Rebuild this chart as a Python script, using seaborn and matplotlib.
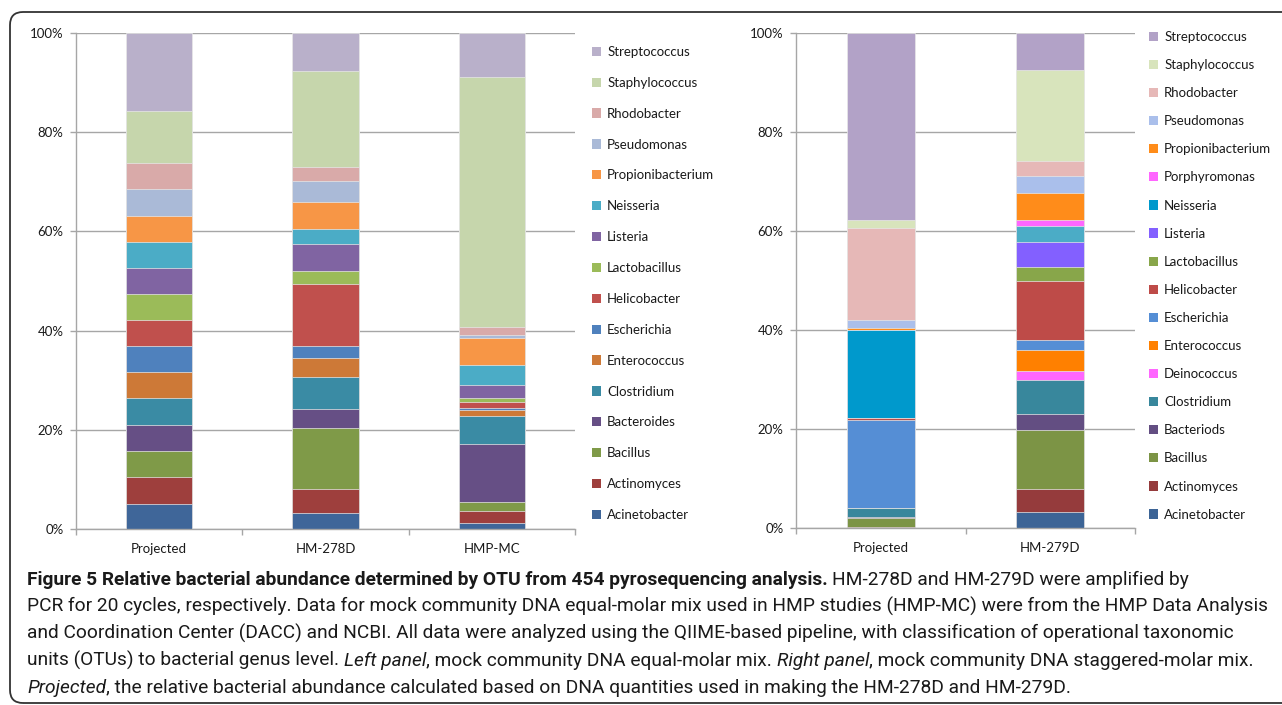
import matplotlib
matplotlib.use("Agg")
import matplotlib.pyplot as plt
import seaborn as sns
import numpy as np
from matplotlib.patches import Patch, FancyBboxPatch
from matplotlib.transforms import IdentityTransform

# ---------------- data ----------------
left_categories = ["Projected", "HM-278D", "HMP-MC"]
left_genera = ["Acinetobacter", "Actinomyces", "Bacillus", "Bacteroides", "Clostridium",
               "Enterococcus", "Escherichia", "Helicobacter", "Lactobacillus", "Listeria",
               "Neisseria", "Propionibacterium", "Pseudomonas", "Rhodobacter",
               "Staphylococcus", "Streptococcus"]
left_projected = [5.1, 5.3, 5.3, 5.3, 5.4, 5.3, 5.2, 5.2, 5.3, 5.2, 5.3, 5.3, 5.4, 5.2, 10.5, 15.7]
left_hm278d = [3.2, 4.9, 12.2, 3.8, 6.6, 3.7, 2.4, 12.5, 2.7, 5.4, 3.0, 5.6, 4.1, 2.9, 19.3, 7.7]
left_hmpmc = [1.2, 2.5, 1.8, 11.6, 5.7, 1.2, 0.3, 1.4, 0.7, 2.6, 4.0, 5.6, 0.5, 1.6, 50.5, 8.8]

right_categories = ["Projected", "HM-279D"]
right_genera = ["Acinetobacter", "Actinomyces", "Bacillus", "Bacteriods", "Clostridium",
                "Deinococcus", "Enterococcus", "Escherichia", "Helicobacter", "Lactobacillus",
                "Listeria", "Neisseria", "Porphyromonas", "Propionibacterium", "Pseudomonas",
                "Rhodobacter", "Staphylococcus", "Streptococcus"]
right_projected = [0.1, 0.2, 1.8, 0.2, 1.8, 0.0, 0.0, 17.8, 0.4, 0.0, 0.0, 17.7, 0.0, 0.5, 1.6, 18.5, 1.7, 37.7]
right_hm279d = [3.3, 4.6, 11.8, 3.4, 6.7, 2.0, 4.1, 2.1, 12.0, 2.7, 5.1, 3.3, 1.2, 5.3, 3.5, 3.1, 18.4, 7.4]

y_ticks = [0, 20, 40, 60, 80, 100]
y_tick_labels = ["0%", "20%", "40%", "60%", "80%", "100%"]

left_colors = {
    "Acinetobacter": "#3F6699", "Actinomyces": "#9E3F3D", "Bacillus": "#7F9A48",
    "Bacteroides": "#664F85", "Clostridium": "#3A8BA4", "Enterococcus": "#CD7937",
    "Escherichia": "#4F81BD", "Helicobacter": "#C0504D", "Lactobacillus": "#9BBB59",
    "Listeria": "#8064A2", "Neisseria": "#4BACC6", "Propionibacterium": "#F79646",
    "Pseudomonas": "#AABAD7", "Rhodobacter": "#D9AAA9", "Staphylococcus": "#C6D6AC",
    "Streptococcus": "#B9B0CA",
}
right_colors = {
    "Acinetobacter": "#3C6496", "Actinomyces": "#953B3C", "Bacillus": "#7C9445",
    "Bacteriods": "#634E82", "Clostridium": "#38879C", "Deinococcus": "#FF66FF",
    "Enterococcus": "#FF8000", "Escherichia": "#558ED5", "Helicobacter": "#BE4B48",
    "Lactobacillus": "#88A64A", "Listeria": "#8360FF", "Neisseria": "#0099CC",
    "Porphyromonas": "#FF66FF", "Propionibacterium": "#FF8C1A", "Pseudomonas": "#AABFEB",
    "Rhodobacter": "#E6B8B7", "Staphylococcus": "#D8E4BC", "Streptococcus": "#B2A2C7",
}
right_overrides = {("Neisseria", "HM-279D"): "#4BACC6"}

# ---------------- style ----------------
sns.set_style("white")
plt.rcParams['font.family'] = ['Lato', 'DejaVu Sans']
TEXT = "#1A1A1A"
GRID = "#A6A6A6"

W, H = 1282, 705
fig = plt.figure(figsize=(W / 100, H / 100), dpi=100)


def px_axes(x0, y_top, x1, y_bot):
    return fig.add_axes([x0 / W, 1 - y_bot / H, (x1 - x0) / W, (y_bot - y_top) / H])


def stacked(ax, cats, genera, values_by_cat, colors, overrides):
    vals = np.array(values_by_cat, dtype=float)
    cum = np.cumsum(vals, axis=1)
    for gi in reversed(range(len(genera))):
        g = genera[gi]
        pal = [overrides.get((g, c), colors[g]) for c in cats]
        sns.barplot(x=cats, y=cum[:, gi], hue=cats, palette=pal, order=cats,
                    hue_order=cats, width=0.4, legend=False, ax=ax, saturation=1,
                    errorbar=None, edgecolor="#E8E8E8", linewidth=0.5, zorder=3)
    n = len(cats)
    ax.set_xlim(-0.5, n - 0.5)
    ax.set_ylim(0, 100)
    ax.set_yticks(y_ticks)
    ax.set_yticklabels(y_tick_labels)
    ax.set_xticks(range(n))
    ax.set_xticklabels(cats)
    ax.set_xticks([i - 0.5 for i in range(n + 1)], minor=True)
    ax.set_xlabel("")
    ax.set_ylabel("")
    ax.yaxis.grid(True, color=GRID, linewidth=1.0, zorder=0)
    ax.set_axisbelow(True)
    for s in ["top", "right"]:
        ax.spines[s].set_visible(False)
    for s in ["left", "bottom"]:
        ax.spines[s].set_color(GRID)
        ax.spines[s].set_linewidth(1.0)
        ax.spines[s].set_zorder(4)
    ax.tick_params(axis="y", which="major", left=True, length=4, width=1, color=GRID,
                   labelsize=9.5, labelcolor=TEXT, pad=5)
    ax.tick_params(axis="x", which="major", bottom=True, length=0, labelsize=9.5,
                   labelcolor=TEXT, pad=10)
    ax.tick_params(axis="x", which="minor", bottom=True, length=4, width=1, color=GRID)


axL = px_axes(76, 33, 575, 529)
axR = px_axes(796, 33, 1135, 528)

stacked(axL, left_categories, left_genera, [left_projected, left_hm278d, left_hmpmc],
        left_colors, {})
stacked(axR, right_categories, right_genera, [right_projected, right_hm279d],
        right_colors, right_overrides)


def legend(genera, colors, x_px, y_top_px, spacing):
    handles = [Patch(facecolor=colors[g], edgecolor="none", label=g) for g in reversed(genera)]
    fig.legend(handles=handles, loc="upper left",
               bbox_to_anchor=(x_px / W, 1 - y_top_px / H), frameon=False,
               fontsize=9.5, handlelength=0.7, handleheight=0.7, handletextpad=0.45,
               labelspacing=spacing, borderpad=0, borderaxespad=0, labelcolor=TEXT)


legend(left_genera, left_colors, 592, 46, 1.43)
legend(right_genera, right_colors, 1149, 31, 1.22)

# outer rounded frame
frame = FancyBboxPatch((10, 2), 1300, 691, boxstyle="round,pad=0,rounding_size=13",
                       transform=IdentityTransform(), facecolor="none",
                       edgecolor="#333333", linewidth=1.3, zorder=10)
fig.patches.append(frame)

# ---------------- caption ----------------
renderer = fig.canvas.get_renderer()
CAP_FONT = ['Roboto', 'DejaVu Sans']


def text_width(s, size, weight="normal", style="normal"):
    t = fig.text(0, 0, s, fontsize=size, fontweight=weight, fontstyle=style, family=CAP_FONT)
    w = t.get_window_extent(renderer).width
    t.remove()
    return w


caption_lines = [
    [("Figure 5 Relative bacterial abundance determined by OTU from 454 pyrosequencing analysis.", "bold", "normal"),
     ("HM-278D and HM-279D were amplified by", "normal", "normal")],
    [("PCR for 20 cycles, respectively. Data for mock community DNA equal-molar mix used in HMP studies (HMP-MC) were from the HMP Data Analysis", "normal", "normal")],
    [("and Coordination Center (DACC) and NCBI. All data were analyzed using the QIIME-based pipeline, with classification of operational taxonomic", "normal", "normal")],
    [("units (OTUs) to bacterial genus level.", "normal", "normal"), ("Left panel", "normal", "italic"),
     (", mock community DNA equal-molar mix.", "normal", "normal"), ("Right panel", "normal", "italic"),
     (", mock community DNA staggered-molar mix.", "normal", "normal")],
    [("Projected", "normal", "italic"),
     (", the relative bacterial abundance calculated based on DNA quantities used in making the HM-278D and HM-279D.", "normal", "normal")],
]
# spaces between segments (True = put a space before this segment)
space_before = [[False, True], [False], [False], [False, True, False, True, False], [False, False]]

# fit size so that line 2 spans the reference width
ref_w = 1241.0
w12 = text_width(caption_lines[1][0][0], 12)
cap_size = 12 * ref_w / w12
space_w = text_width("a a", cap_size) - text_width("aa", cap_size)

baselines = [585, 612, 639, 666, 693]
for line, sp, yb in zip(caption_lines, space_before, baselines):
    x = 27.0
    for (s, wt, st), spb in zip(line, sp):
        if spb:
            x += space_w
        t = fig.text(x / W, 1 - yb / H, s, fontsize=cap_size, fontweight=wt, fontstyle=st,
                     family=CAP_FONT, color=TEXT, va="baseline", ha="left")
        x += t.get_window_extent(renderer).width

fig.savefig("out.png", dpi=100)
